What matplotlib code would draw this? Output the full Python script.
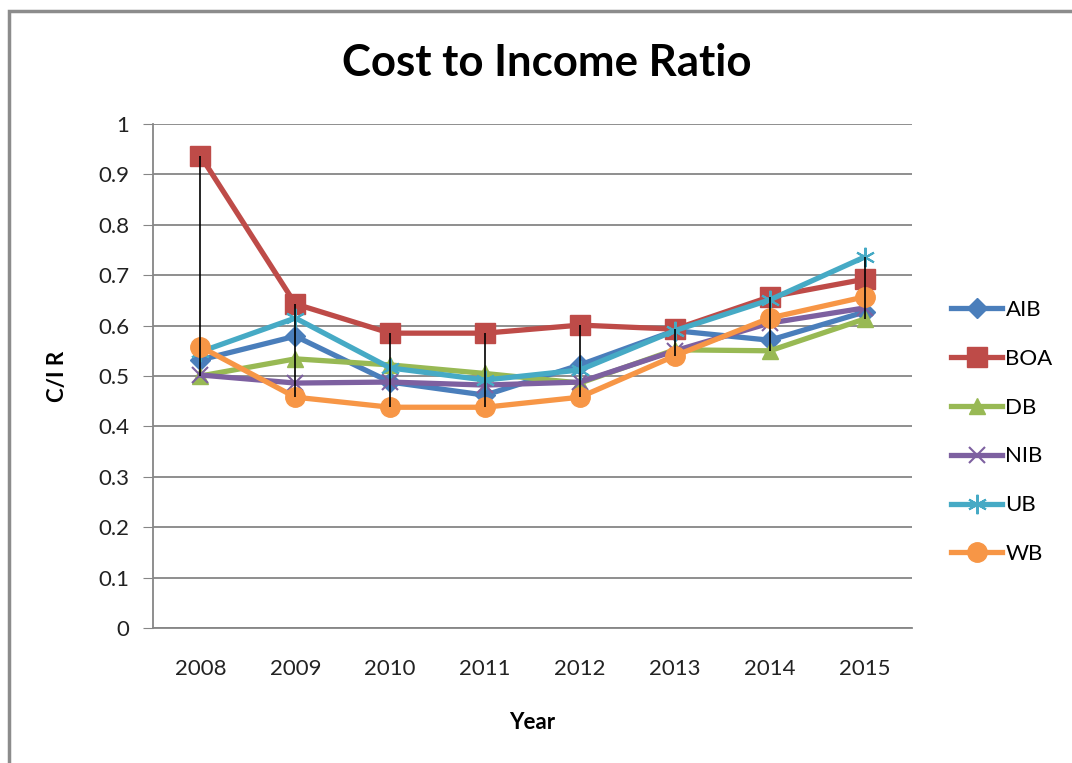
import numpy as np
import matplotlib
matplotlib.use("Agg")
import matplotlib.pyplot as plt
from matplotlib.patches import Rectangle

######################################################################
# Data

years = ["2008", "2009", "2010", "2011", "2012", "2013", "2014", "2015"]

aib = [0.532, 0.579, 0.488, 0.462, 0.522, 0.590, 0.571, 0.627]
boa = [0.937, 0.643, 0.585, 0.585, 0.601, 0.593, 0.657, 0.692]
db = [0.500, 0.534, 0.522, 0.505, 0.486, 0.552, 0.550, 0.613]
nib = [0.502, 0.486, 0.488, 0.482, 0.488, 0.550, 0.605, 0.635]
ub = [0.548, 0.615, 0.516, 0.492, 0.512, 0.590, 0.651, 0.736]
wb = [0.558, 0.458, 0.438, 0.438, 0.458, 0.540, 0.615, 0.657]

series_names = ["AIB", "BOA", "DB", "NIB", "UB", "WB"]

######################################################################
# Style

plt.rcParams['font.family'] = ['Lato', 'DejaVu Sans']
colors = ['#4A7EBB', '#BE4B48', '#98B954', '#7D60A0', '#46AAC5', '#F79646']
markers = ['D', 's', '^', 'x', (6, 2, 0), 'o']
msizes = [10, 14, 12, 12, 14, 14]

fig = plt.figure(figsize=(10.72, 7.63), dpi=100)
ax = fig.add_axes([153/1072, 135/763, 759/1072, 504/763])

# outer chart border
fig.patches.append(Rectangle((9/1072, -0.05), 1.2, 1 - 11/763 + 0.05,
                             transform=fig.transFigure, fill=False,
                             edgecolor='#8c8c8c', linewidth=2.5))

x = np.arange(len(years))
all_series = [aib, boa, db, nib, ub, wb]

# high-low lines, like excel
data = np.array(all_series)
ax.vlines(x, data.min(axis=0), data.max(axis=0), color='black', linewidth=1.2, zorder=4)

for vals, name, c, m, ms in zip(all_series, series_names, colors, markers, msizes):
    ax.plot(x, vals, color=c, linewidth=3.8, marker=m, markersize=ms,
            markeredgewidth=1.5 if m in ('x', (6, 2, 0)) else 1,
            markerfacecolor=c, markeredgecolor=c, label=name, zorder=3)

ax.set_xlim(-0.5, len(years) - 0.5)
ax.set_ylim(0, 1)
ax.set_yticks(np.arange(0, 1.01, 0.1))
ax.set_yticklabels(['0', '0.1', '0.2', '0.3', '0.4', '0.5', '0.6', '0.7', '0.8', '0.9', '1'])
ax.set_xticks(x)
ax.set_xticklabels(years)
ax.grid(axis='y', color='#868686', linewidth=1.3)
ax.set_axisbelow(True)

for s in ['top', 'right']:
    ax.spines[s].set_visible(False)
ax.spines['left'].set_color('#868686')
ax.spines['bottom'].set_color('#868686')
ax.spines['left'].set_linewidth(1.3)
ax.spines['bottom'].set_linewidth(1.3)
ax.tick_params(axis='y', length=7, color='#868686', labelsize=16, pad=10, labelcolor='#222222')
ax.tick_params(axis='x', length=0, labelsize=16, pad=22, labelcolor='#222222')

ax.set_ylabel('C/I R', fontsize=16, fontweight='bold', labelpad=22)
ax.set_xlabel('Year', fontsize=16, fontweight='bold', labelpad=24)

fig.text(547/1072, 1 - 63/763, 'Cost to Income Ratio', fontsize=31.5,
         fontweight='bold', ha='center', va='center')

fig.legend(loc='center left', bbox_to_anchor=(951/1072, 1 - 432/763),
           frameon=False, fontsize=16, handlelength=2.3, handletextpad=0.15,
           labelspacing=1.3, borderpad=0, borderaxespad=0)

plt.savefig('out.png', dpi=100)
